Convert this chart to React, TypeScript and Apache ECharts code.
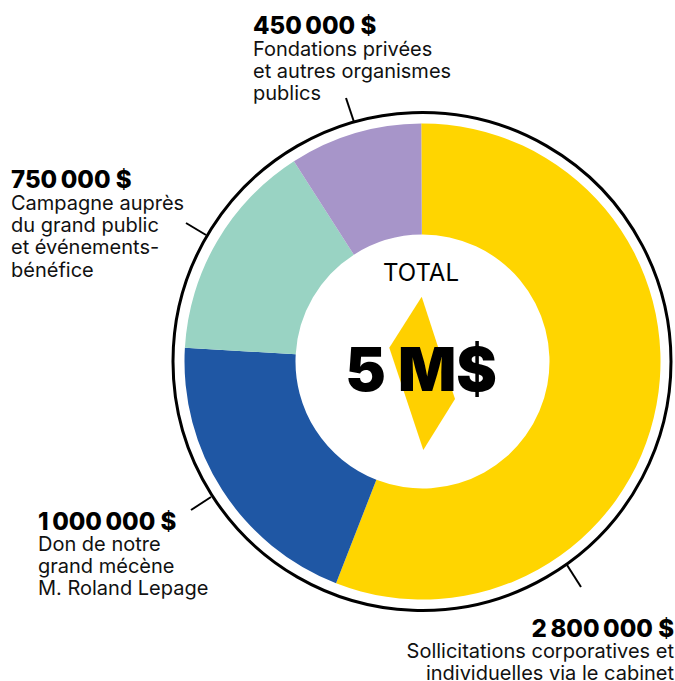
import React, { useEffect, useRef } from "react";
import * as echarts from "echarts";

const amounts = ["2\u2009800\u2009000 $", "1\u2009000\u2009000 $", "750\u2009000 $", "450\u2009000 $"];
const values = [2800000, 1000000, 750000, 450000];
const descriptions = [
  ["Sollicitations corporatives et", "individuelles via le cabinet"],
  ["Don de notre", "grand mécène", "M. Roland Lepage"],
  ["Campagne auprès", "du grand public", "et événements-", "bénéfice"],
  ["Fondations privées", "et autres organismes", "publics"],
];
const colors = ["#FFD500", "#1F57A4", "#99D3C3", "#A795C9"];
const totalLabel = "TOTAL";
const totalValue = "5 M$";

const CX = 422.5;
const CY = 361.5;
const FONT = "Inter";
const blocks = [
  { x: 674, amountY: 628, lineY: 651, align: "right" },
  { x: 38, amountY: 521, lineY: 544, align: "left" },
  { x: 11, amountY: 179, lineY: 203, align: "left" },
  { x: 253, amountY: 25, lineY: 49, align: "left" },
];
const leaders = [
  [567, 565, 581, 587],
  [191, 510, 211, 497],
  [186, 223, 206, 235],
  [346, 98, 354, 122],
];

export default function App() {
  const ref = useRef<HTMLDivElement>(null);
  useEffect(() => {
    const chart = echarts.init(ref.current!, null, { renderer: "svg" });
    const graphic: any[] = [
      {
        type: "circle",
        shape: { cx: 422, cy: 361.5, r: 249 },
        style: { fill: "none", stroke: "#000", lineWidth: 3 },
        silent: true,
      },
      {
        type: "polygon",
        shape: { points: [[421.7, 296.7], [389.3, 347.7], [423.3, 450], [455, 399]] },
        style: { fill: "#FFD000" },
        silent: true,
      },
      {
        type: "text", x: 421, y: 272,
        style: { text: totalLabel, font: `400 24px ${FONT}`, fill: "#000", align: "center", verticalAlign: "middle" },
      },
      {
        type: "text", x: 421, y: 369,
        style: { text: totalValue, font: `900 61px ${FONT}`, fill: "#000", align: "center", verticalAlign: "middle" },
      },
    ];
    leaders.forEach(([x1, y1, x2, y2]) =>
      graphic.push({
        type: "line",
        shape: { x1, y1, x2, y2 },
        style: { stroke: "#000", lineWidth: 2 },
        silent: true,
      }),
    );
    blocks.forEach((b, i) => {
      graphic.push({
        type: "text", x: b.x, y: b.amountY,
        style: { text: amounts[i], font: `800 24px ${FONT}`, fill: "#000", align: b.align, verticalAlign: "middle" },
      });
      descriptions[i].forEach((line, j) =>
        graphic.push({
          type: "text", x: b.x, y: b.lineY + j * 22.2,
          style: { text: line, font: `400 20px ${FONT}`, fill: "#111", align: b.align, verticalAlign: "middle" },
        }),
      );
    });
    chart.setOption({
      animation: false,
      backgroundColor: "#fff",
      graphic,
      series: [
        {
          type: "pie",
          center: [CX, CY],
          radius: [127, 238],
          startAngle: 90.3,
          clockwise: true,
          silent: true,
          label: { show: false },
          labelLine: { show: false },
          data: values.map((value, i) => ({ value, name: amounts[i], itemStyle: { color: colors[i] } })),
        },
      ],
    });
    return () => chart.dispose();
  }, []);
  return <div ref={ref} style={{ position: "fixed", left: 0, top: 0, width: 675, height: 681 }} />;
}
